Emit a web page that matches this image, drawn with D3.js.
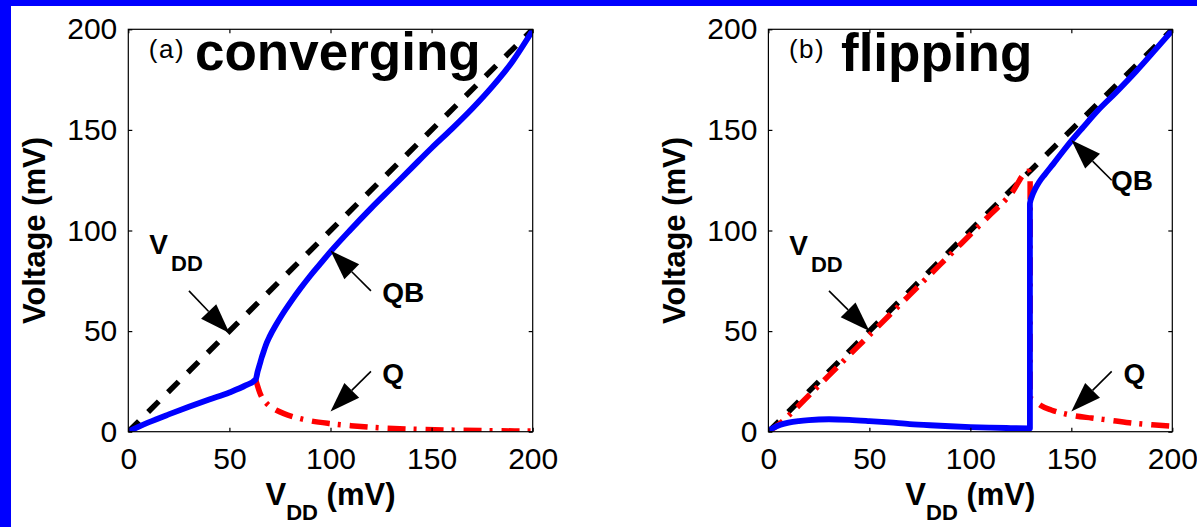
<!DOCTYPE html>
<html>
<head>
<meta charset="utf-8">
<script src="https://cdn.jsdelivr.net/npm/d3@7"></script>
<style>
    body { margin: 0; background: #fff; }
    svg text { font-family: "Liberation Sans", Arial, sans-serif; }
</style>
</head>
<body>
<script>
const w = 1197, h = 527;

// shared axis ticks
const ticks = [0, 50, 100, 150, 200];

// V_DD reference (y = x)
const vddX = [0, 200];
const vddY = [0, 200];

// (a) converging
const qbAX = [0, 5, 10, 20, 30, 40, 50, 58, 63, 64, 65, 66, 67, 68, 70, 73, 76, 80, 85, 90, 95, 100, 110, 120, 130, 140, 150, 160, 170, 180, 190, 200];
const qbAY = [0, 2.4, 4.6, 8.6, 12.4, 16, 19.5, 23, 26, 30, 33.5, 37, 40, 43, 47.5, 53, 58, 64, 71, 77.5, 83.5, 89.5, 100.5, 111, 121, 131, 141, 150.5, 160.5, 171.5, 184, 199.5];
const qAX = [63, 64, 65, 66, 68, 70, 73, 77, 82, 90, 100, 110, 125, 140, 160, 180, 200];
const qAY = [26, 22.5, 19.5, 17.2, 14.5, 12.6, 10.8, 9, 7.3, 5.4, 4, 3, 1.9, 1.3, 0.8, 0.5, 0.3];

// (b) flipping
const qbBX = [0, 3, 6, 10, 15, 20, 30, 40, 50, 60, 70, 80, 90, 100, 110, 120, 129.5, 129.5, 130.5, 132, 134, 137, 141, 146, 150, 156, 163, 172, 182, 190, 200];
const qbBY = [0.5, 2.2, 3.4, 4.5, 5.3, 5.8, 6.2, 5.9, 5.3, 4.6, 3.8, 3.2, 2.7, 2.3, 2, 1.8, 1.7, 113.5, 117, 120.5, 124, 128, 133, 139.5, 144.5, 151.5, 159.5, 168.5, 179, 188, 199.5];
const qBX = [0, 5, 10, 20, 30, 40, 50, 60, 70, 80, 90, 100, 110, 120, 128.7, 129.6, 129.6, 131.3, 135, 140, 150, 160, 170, 180, 190, 200];
const qBY = [0, 3.5, 8, 18, 28, 38, 48, 58, 68, 78, 88, 98, 108, 118, 129.5, 128, 17, 15.8, 13, 10.8, 8.2, 6.8, 5.6, 4.3, 3.4, 2.7];

// annotations: [tail x, tail y, tip x, tip y]
const arrowsA = [[30, 70, 50, 49], [120, 70, 100, 90], [120, 30, 100, 10]];
const arrowsB = [[30, 70, 50, 50], [170, 125, 150, 145], [170, 30, 150, 10]];
// label anchors in data units
const labelsA = [{ t: "V", sub: "DD", x: 10.4, y: 88.3 }, { t: "QB", x: 125.6, y: 64.3 }, { t: "Q", x: 125.6, y: 24.2 }];
const labelsB = [{ t: "V", sub: "DD", x: 10.3, y: 87.8 }, { t: "QB", x: 169.6, y: 120.1 }, { t: "Q", x: 175.8, y: 24 }];

const svg = d3.select("body").append("svg")
    .attr("width", w)
    .attr("height", h);

// blue frame (top + left only)
svg.append("rect").attr("width", w).attr("height", h).attr("fill", "#0000ff");
svg.append("rect").attr("x", 11).attr("y", 6).attr("width", w).attr("height", h).attr("fill", "#fff");

function zip(xs, ys) {
    return xs.map(function (d, i) { return [d, ys[i]]; });
}

function drawPanel(id, left, right, tag, title, titleX, titleY, qb, q, arrows, labels) {
    let xScale = d3.scaleLinear().domain([0, 200]).range([left, right]);
    let yScale = d3.scaleLinear().domain([0, 200]).range([431.7, 29.3]);
    let g = svg.append("g");

    g.append("clipPath").attr("id", "clip" + id)
        .append("rect")
        .attr("x", left).attr("y", 29.3)
        .attr("width", right - left).attr("height", 431.7 - 29.3);

    let line = d3.line()
        .x(function (d) { return xScale(d[0]); })
        .y(function (d) { return yScale(d[1]); })
        .curve(d3.curveMonotoneX);

    let plot = g.append("g").attr("clip-path", "url(#clip" + id + ")");
    plot.append("path")
        .attr("d", line(zip(vddX, vddY)))
        .attr("fill", "none").attr("stroke", "#000")
        .attr("stroke-width", 5.5).attr("stroke-dasharray", "15,13");
    plot.append("path")
        .attr("d", line(q))
        .attr("fill", "none").attr("stroke", "#ff0000")
        .attr("stroke-width", 5.5).attr("stroke-dasharray", "18,8,3,9");
    plot.append("path")
        .attr("d", line(qb))
        .attr("fill", "none").attr("stroke", "#0000ff")
        .attr("stroke-width", 5.8).attr("stroke-linejoin", "round");

    // box + inward ticks on all sides
    g.append("rect")
        .attr("x", left).attr("y", 29.3)
        .attr("width", right - left).attr("height", 431.7 - 29.3)
        .attr("fill", "none").attr("stroke", "#000").attr("stroke-width", 1.2);

    let axes = [
        [d3.axisBottom(xScale), "translate(0,431.7)", 16, true],
        [d3.axisLeft(yScale), "translate(" + left + ",0)", 11, true],
        [d3.axisTop(xScale), "translate(0,29.3)", 0, false],
        [d3.axisRight(yScale), "translate(" + right + ",0)", 0, false]
    ];
    axes.forEach(function (a) {
        let ax = a[0].tickValues(ticks).tickSize(-4).tickSizeOuter(0).tickPadding(a[2]);
        if (!a[3]) ax.tickFormat("");
        let ag = g.append("g").attr("transform", a[1]).call(ax);
        ag.select(".domain").remove();
        ag.selectAll("line").attr("stroke-width", 1.2);
        ag.selectAll("text")
            .attr("font-size", 30)
            .attr("font-family", "'Liberation Sans', Arial, sans-serif")
            .attr("fill", "#000");
    });

    // axis titles
    g.append("text")
        .attr("transform", "translate(" + (left - 83) + "," + 230.5 + ") rotate(-90)")
        .attr("text-anchor", "middle")
        .attr("font-weight", "bold")
        .attr("font-size", 31)
        .text("Voltage (mV)");
    let xl = g.append("text")
        .attr("x", (left + right) / 2).attr("y", 505)
        .attr("text-anchor", "middle")
        .attr("font-weight", "bold")
        .attr("font-size", 31);
    xl.append("tspan").text("V");
    xl.append("tspan").attr("dy", 15).attr("font-size", 22).text("DD");
    xl.append("tspan").attr("dy", -15).text(" (mV)");

    // panel tag and title
    g.append("text")
        .attr("x", left + 20.5).attr("y", 58)
        .attr("font-size", 26)
        .attr("letter-spacing", 1.5)
        .text(tag);
    g.append("text")
        .attr("x", titleX).attr("y", titleY)
        .attr("font-weight", "bold")
        .attr("font-size", 53)
        .text(title);

    // arrows
    arrows.forEach(function (a) {
        let x0 = xScale(a[0]), y0 = yScale(a[1]), x1 = xScale(a[2]), y1 = yScale(a[3]);
        let ang = Math.atan2(y1 - y0, x1 - x0);
        let hl = 30, hw = 10.5;
        let bx = x1 - hl * Math.cos(ang), by = y1 - hl * Math.sin(ang);
        g.append("line")
            .attr("x1", x0).attr("y1", y0).attr("x2", bx).attr("y2", by)
            .attr("stroke", "#000").attr("stroke-width", 1.6);
        g.append("path")
            .attr("d", "M" + x1 + "," + y1 +
                "L" + (bx + hw * Math.sin(ang)) + "," + (by - hw * Math.cos(ang)) +
                "L" + (bx - hw * Math.sin(ang)) + "," + (by + hw * Math.cos(ang)) + "Z")
            .attr("fill", "#000");
    });

    labels.forEach(function (d) {
        let t = g.append("text")
            .attr("x", xScale(d.x)).attr("y", yScale(d.y))
            .attr("font-weight", "bold")
            .attr("font-size", 28);
        t.append("tspan").text(d.t);
        if (d.sub) {
            t.append("tspan").attr("dx", 3).attr("dy", 17).attr("font-size", 22).text(d.sub);
        }
    });
}

drawPanel("a", 128.3, 532.7, "(a)", "converging", 195, 70, zip(qbAX, qbAY), zip(qAX, qAY), arrowsA, labelsA);
drawPanel("b", 768.4, 1172.3, "(b)", "flipping", 841, 71, zip(qbBX, qbBY), zip(qBX, qBY), arrowsB, labelsB);
</script>
</body>
</html>
